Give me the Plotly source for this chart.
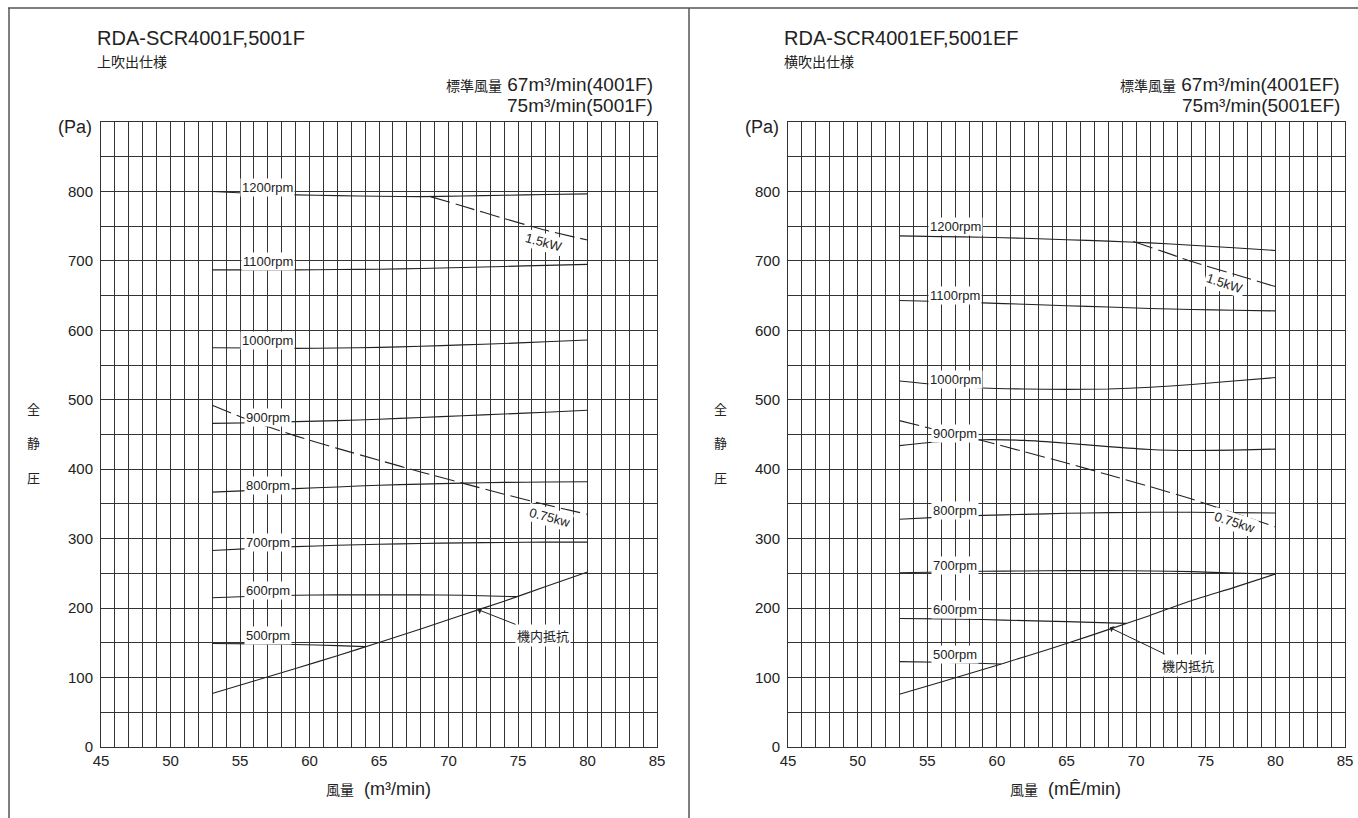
import plotly.graph_objects as go

W, H = 1358, 818

# ---------------- data ----------------
# common flow points (m3/min)
Q = [53, 56, 59, 62, 65, 68, 71, 74, 77, 80]

# left panel: RDA-SCR4001F,5001F (上吹出仕様)
L_1200 = [800, 797, 795, 794, 793, 792.5, 793.5, 794.5, 795.5, 796.5]
L_1100 = [687, 687, 687, 687.5, 688, 689, 690.5, 692, 693.5, 695]
L_1000 = [575, 574.5, 574, 574.5, 575.5, 577, 579, 581, 583.5, 586]
L_900 = [466, 467, 468.5, 470, 472, 474.5, 477, 479.5, 482, 485]
L_800 = [367, 369.5, 372, 374.5, 377, 378.5, 380, 381, 381.5, 382]
L_700 = [283, 286, 288.5, 290.5, 292, 293, 294, 294.5, 295, 295]
L_600_Q = [53, 56, 59, 62, 65, 68, 71, 74.9]
L_600 = [215, 217, 218.5, 219, 219, 219, 218.5, 216.5]
L_500_Q = [53, 56, 59, 62, 64]
L_500 = [149, 148.5, 147.5, 146, 144.5]
L_KW15_Q = [68.7, 71, 74, 77, 80]
L_KW15 = [792.5, 779, 761, 744, 730]
L_KW075 = [492, 468, 448, 430, 413, 396, 380, 364, 349, 335]
L_RES = [77, 95, 113, 131.5, 150.5, 170, 190, 210, 231, 252]

# right panel: RDA-SCR4001EF,5001EF (横吹出仕様)
R_1200 = [736, 735, 734, 732.5, 730.5, 728.5, 726, 722.5, 719, 715]
R_1100 = [643, 641.5, 639.5, 637.5, 635.5, 633.5, 631.5, 630, 629, 628]
R_1000 = [527, 521, 517, 515.5, 515, 515.5, 518, 522, 527, 532]
R_900 = [434, 440, 442.5, 441.5, 437.5, 432.5, 428.5, 427, 427.5, 429]
R_800 = [328, 331, 333.5, 335, 336.5, 337.5, 338, 338, 337.5, 337]
R_700 = [251, 252, 253, 253.5, 254, 254, 253.5, 252.5, 250.5, 249]
R_600_Q = [53, 56, 59, 62, 65, 69.3]
R_600 = [185, 184.5, 183.5, 182, 180.5, 178]
R_500_Q = [53, 56, 58, 60.3]
R_500 = [123, 122, 121, 119.5]
R_KW15_Q = [69.8, 72, 74, 77, 80]
R_KW15 = [728, 713, 699, 681, 663]
R_KW075 = [470, 455, 441, 425, 409, 392, 375, 357, 337, 317]
R_RES = [76, 93.5, 111.5, 130, 149, 169, 189.5, 211, 229.5, 249]

RPM_NAMES = ["1200rpm", "1100rpm", "1000rpm", "900rpm", "800rpm", "700rpm", "600rpm", "500rpm"]

X_TICKS = [45, 50, 55, 60, 65, 70, 75, 80, 85]
Y_TICKS = [0, 100, 200, 300, 400, 500, 600, 700, 800]

# ---------------- styling ----------------
FONT = "Liberation Sans, Arial, Noto Sans CJK JP, sans-serif"
JP = "Noto Sans CJK JP, Liberation Sans, sans-serif"
INK = "#222222"
GRID = "#333333"

fig = go.Figure()


def curve(xs, ys, xa, ya, dash=None):
    fig.add_trace(go.Scatter(
        x=xs, y=ys, mode="lines",
        line=dict(color=INK, width=1.1, dash=dash, shape="spline", smoothing=0.5),
        xaxis=xa, yaxis=ya, hoverinfo="skip", showlegend=False))


DASH = "20px,6px"
for xa, ya, series in [
    ("x", "y", [(Q, L_1200), (Q, L_1100), (Q, L_1000), (Q, L_900), (Q, L_800), (Q, L_700),
                (L_600_Q, L_600), (L_500_Q, L_500), (Q, L_RES)]),
    ("x2", "y2", [(Q, R_1200), (Q, R_1100), (Q, R_1000), (Q, R_900), (Q, R_800), (Q, R_700),
                  (R_600_Q, R_600), (R_500_Q, R_500), (Q, R_RES)]),
]:
    for xs, ys in series:
        curve(xs, ys, xa, ya)

curve(L_KW15_Q, L_KW15, "x", "y", DASH)
curve(Q, L_KW075, "x", "y", DASH)
curve(R_KW15_Q, R_KW15, "x2", "y2", DASH)
curve(Q, R_KW075, "x2", "y2", DASH)

# ---------------- axes ----------------
x_grid = list(range(X_TICKS[0], X_TICKS[-1] + 1))
x_text = [str(v) if v in X_TICKS else "" for v in x_grid]
y_grid = list(range(0, 901, 50))
y_text = [str(v) if v in Y_TICKS else "" for v in y_grid]

L_DOM = [101 / W, 657 / W]
R_DOM = [788 / W, 1345 / W]
Y_DOM = [1 - 747 / H, 1 - 122 / H]


def xaxis(dom, anchor):
    return dict(domain=dom, range=[45, 85], tickmode="array", tickvals=x_grid, ticktext=x_text,
                showgrid=True, gridcolor=GRID, gridwidth=1, zeroline=False,
                showline=True, mirror=True, linecolor=GRID, linewidth=1, ticks="",
                tickfont=dict(size=15, family=FONT, color=INK), anchor=anchor,
                automargin=False, fixedrange=True)


def yaxis(dom, anchor):
    return dict(domain=dom, range=[0, 900], tickmode="array", tickvals=y_grid, ticktext=y_text,
                showgrid=True, gridcolor=GRID, gridwidth=1, zeroline=False,
                showline=True, mirror=True, linecolor=GRID, linewidth=1, ticks="",
                ticklabelstandoff=4,
                tickfont=dict(size=15, family=FONT, color=INK), anchor=anchor,
                automargin=False, fixedrange=True)


# ---------------- annotations ----------------
anns = []


def pa(text, x, y, size, xanchor="left", family=FONT):
    anns.append(dict(text=text, xref="paper", yref="paper", x=x / W, y=1 - y / H,
                     xanchor=xanchor, yanchor="middle", showarrow=False,
                     font=dict(size=size, family=family, color=INK)))


def da(text, x, y, xr, yr, size=13, angle=0, bg="white", xanchor="center"):
    anns.append(dict(text=text, xref=xr, yref=yr, x=x, y=y, xanchor=xanchor, yanchor="middle",
                     showarrow=False, textangle=angle, bgcolor=bg, borderpad=1,
                     font=dict(size=size, family=FONT, color=INK)))


panels = [
    dict(off=0, xr="x", yr="y", title="RDA-SCR4001F,5001F", sub="上吹出仕様",
         std1="67m³/min(4001F)", std2="75m³/min(5001F)", lo1="4001F下限", lo2="5001F下限",
         unit="m³/min", lab_y=[805, 699, 586, 474, 376, 294, 225, 160],
         kw15=(76.9, 727, 15), kw075=(77.3, 331, 15), res=(72.1, 198, 76.8, 161)),
    dict(off=687, xr="x2", yr="y2", title="RDA-SCR4001EF,5001EF", sub="横吹出仕様",
         std1="67m³/min(4001EF)", std2="75m³/min(5001EF)", lo1="4001下限", lo2="5001下限",
         unit="mÊ/min", lab_y=[750, 650, 528.5, 451.6, 341, 262, 198, 133.5],
         kw15=(76.4, 668, 18), kw075=(77.1, 324, 18), res=(68.1, 172, 73.7, 118)),
]

for p in panels:
    o = p["off"]
    pa(p["title"], 95 + o, 38, 20)
    pa(p["sub"], 95 + o, 61, 14, family=JP)
    pa('<span style="font-size:14px">標準風量</span> ' + p["std1"], 655 + o, 84, 19,
       xanchor="right")
    pa(p["std2"], 655 + o, 106, 19, xanchor="right")
    pa("(Pa)", 75 + o, 127, 18, xanchor="center")
    for ch, yy in zip(["全", "静", "圧"], [408, 442, 477]):
        pa(ch, 33 + o, yy, 13, xanchor="center", family=JP)
    pa('<span style="font-size:14px">風量</span>  (' + p["unit"] + ')', 378 + o, 789, 18,
       xanchor="center")
    # lower-limit markers above the grid
    da(p["lo1"], 53, 910, p["xr"], p["yr"], size=13, bg=None)
    da(p["lo2"], 60, 910, p["xr"], p["yr"], size=13, bg=None)
    # rpm labels
    for name, ly in zip(RPM_NAMES, p["lab_y"]):
        da(name, 57.0, ly, p["xr"], p["yr"], size=13)
    da("1.5kW", p["kw15"][0], p["kw15"][1], p["xr"], p["yr"], size=13, angle=p["kw15"][2])
    da("0.75kw", p["kw075"][0], p["kw075"][1], p["xr"], p["yr"], size=13, angle=p["kw075"][2])
    tx, ty, lx, ly = p["res"]
    anns.append(dict(text="機内抵抗", xref=p["xr"], yref=p["yr"], x=tx, y=ty,
                     ax=lx, ay=ly, axref=p["xr"], ayref=p["yr"], showarrow=True,
                     arrowhead=1, arrowsize=1.2, arrowwidth=1, arrowcolor=INK,
                     bgcolor="white", borderpad=1,
                     font=dict(size=13, family=JP, color=INK)))

shapes = [
    dict(type="line", xref="paper", yref="paper", x0=8 / W, x1=1, y0=1 - 8 / H, y1=1 - 8 / H,
         line=dict(color="#555", width=1.5)),
    dict(type="line", xref="paper", yref="paper", x0=9 / W, x1=9 / W, y0=0, y1=1 - 8 / H,
         line=dict(color="#555", width=1.5)),
    dict(type="line", xref="paper", yref="paper", x0=689 / W, x1=689 / W, y0=0, y1=1 - 8 / H,
         line=dict(color="#555", width=1.5)),
]

fig.update_layout(
    width=W, height=H, margin=dict(l=0, r=0, t=0, b=0),
    paper_bgcolor="white", plot_bgcolor="white",
    xaxis=xaxis(L_DOM, "y"), yaxis=yaxis(Y_DOM, "x"),
    xaxis2=xaxis(R_DOM, "y2"), yaxis2=yaxis(Y_DOM, "x2"),
    annotations=anns, shapes=shapes, showlegend=False,
)

fig.write_html("out.html", config={"displayModeBar": False, "staticPlot": True},
               post_script="document.body.style.margin='0';")
